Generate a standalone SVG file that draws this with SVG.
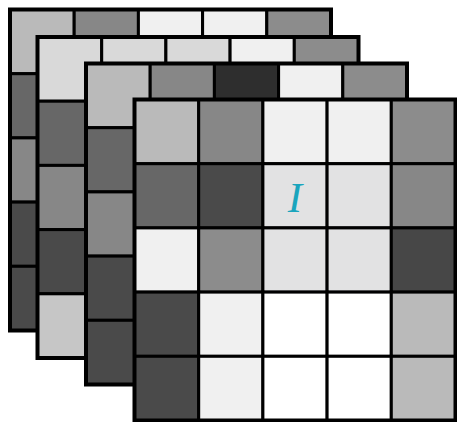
<svg xmlns="http://www.w3.org/2000/svg" width="457" height="422" viewBox="0 0 457 422">
<style>
rect{stroke:#000;stroke-width:3}
rect.bg{fill:#fff;stroke:none}
.o{fill:none;stroke-width:4}
.a{fill:#bababa}.b{fill:#878787}.c{fill:#f0f0f0}.d{fill:#8c8c8c}.e{fill:#676767}.f{fill:#4a4a4a}.g{fill:#d9d9d9}.h{fill:#c6c6c6}.k{fill:#2e2e2e}.m{fill:#e2e2e3}.w{fill:#ffffff}.n{fill:#474747}
.lbl{font-family:"Liberation Serif",serif;font-style:italic;font-size:43px;fill:#1aa5bd}
</style>
<rect class="bg" width="457" height="422"/>
<g id="layer1" transform="translate(10,9.5)">
<rect class="a" x="0" y="0" width="64.2" height="64.2"/><rect class="b" x="64.2" y="0" width="64.2" height="64.2"/><rect class="c" x="128.4" y="0" width="64.2" height="64.2"/><rect class="c" x="192.6" y="0" width="64.2" height="64.2"/><rect class="d" x="256.8" y="0" width="64.2" height="64.2"/>
<rect class="e" x="0" y="64.2" width="64.2" height="64.2"/>
<rect class="b" x="0" y="128.4" width="64.2" height="64.2"/>
<rect class="f" x="0" y="192.6" width="64.2" height="64.2"/>
<rect class="f" x="0" y="256.8" width="64.2" height="64.2"/>
<rect class="o" x="0" y="0" width="321" height="321"/>
</g>
<g id="layer2" transform="translate(37.5,37)">
<rect class="g" x="0" y="0" width="64.2" height="64.2"/><rect class="g" x="64.2" y="0" width="64.2" height="64.2"/><rect class="g" x="128.4" y="0" width="64.2" height="64.2"/><rect class="c" x="192.6" y="0" width="64.2" height="64.2"/><rect class="d" x="256.8" y="0" width="64.2" height="64.2"/>
<rect class="e" x="0" y="64.2" width="64.2" height="64.2"/>
<rect class="b" x="0" y="128.4" width="64.2" height="64.2"/>
<rect class="f" x="0" y="192.6" width="64.2" height="64.2"/>
<rect class="h" x="0" y="256.8" width="64.2" height="64.2"/>
<rect class="g" x="64.2" y="64.2" width="256.8" height="256.8"/>
<rect class="o" x="0" y="0" width="321" height="321"/>
</g>
<g id="layer3" transform="translate(86,63.5)">
<rect class="a" x="0" y="0" width="64.2" height="64.2"/><rect class="b" x="64.2" y="0" width="64.2" height="64.2"/><rect class="k" x="128.4" y="0" width="64.2" height="64.2"/><rect class="c" x="192.6" y="0" width="64.2" height="64.2"/><rect class="d" x="256.8" y="0" width="64.2" height="64.2"/>
<rect class="e" x="0" y="64.2" width="64.2" height="64.2"/>
<rect class="b" x="0" y="128.4" width="64.2" height="64.2"/>
<rect class="f" x="0" y="192.6" width="64.2" height="64.2"/>
<rect class="f" x="0" y="256.8" width="64.2" height="64.2"/>
<rect class="a" x="64.2" y="64.2" width="256.8" height="256.8"/>
<rect class="o" x="0" y="0" width="321" height="321"/>
</g>
<g id="layer4" transform="translate(134.5,99.5)">
<rect class="a" x="0" y="0" width="64.2" height="64.2"/><rect class="b" x="64.2" y="0" width="64.2" height="64.2"/><rect class="c" x="128.4" y="0" width="64.2" height="64.2"/><rect class="c" x="192.6" y="0" width="64.2" height="64.2"/><rect class="d" x="256.8" y="0" width="64.2" height="64.2"/>
<rect class="e" x="0" y="64.2" width="64.2" height="64.2"/><rect class="f" x="64.2" y="64.2" width="64.2" height="64.2"/><rect class="m" x="128.4" y="64.2" width="64.2" height="64.2"/><rect class="m" x="192.6" y="64.2" width="64.2" height="64.2"/><rect class="b" x="256.8" y="64.2" width="64.2" height="64.2"/>
<rect class="c" x="0" y="128.4" width="64.2" height="64.2"/><rect class="d" x="64.2" y="128.4" width="64.2" height="64.2"/><rect class="m" x="128.4" y="128.4" width="64.2" height="64.2"/><rect class="m" x="192.6" y="128.4" width="64.2" height="64.2"/><rect class="n" x="256.8" y="128.4" width="64.2" height="64.2"/>
<rect class="f" x="0" y="192.6" width="64.2" height="64.2"/><rect class="c" x="64.2" y="192.6" width="64.2" height="64.2"/><rect class="w" x="128.4" y="192.6" width="64.2" height="64.2"/><rect class="w" x="192.6" y="192.6" width="64.2" height="64.2"/><rect class="a" x="256.8" y="192.6" width="64.2" height="64.2"/>
<rect class="f" x="0" y="256.8" width="64.2" height="64.2"/><rect class="c" x="64.2" y="256.8" width="64.2" height="64.2"/><rect class="w" x="128.4" y="256.8" width="64.2" height="64.2"/><rect class="w" x="192.6" y="256.8" width="64.2" height="64.2"/><rect class="a" x="256.8" y="256.8" width="64.2" height="64.2"/>
<rect class="o" x="0" y="0" width="321" height="321"/>
<text class="lbl" x="160.5" y="112" text-anchor="middle">I</text>
</g>
</svg>
